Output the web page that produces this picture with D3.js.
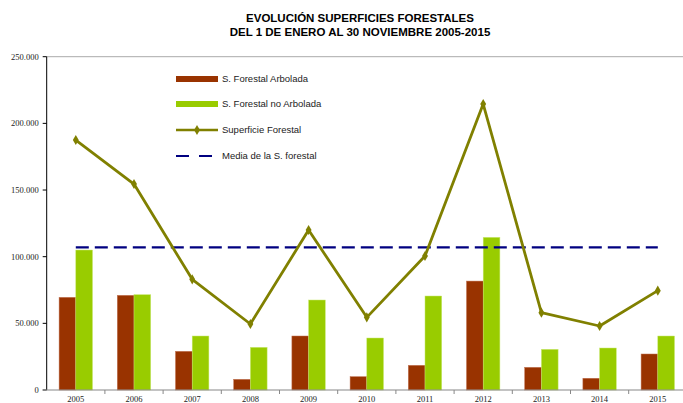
<!DOCTYPE html>
<html><head><meta charset="utf-8">
<script src="https://cdn.jsdelivr.net/npm/d3@7"></script>
<style>body{margin:0;background:#fff}svg{display:block}</style>
</head><body>
<script>
const years = ["2005","2006","2007","2008","2009","2010","2011","2012","2013","2014","2015"];
const arbolada = [69500,71000,29000,8000,40500,10000,18500,81700,17000,8800,27000];
const noArbolada = [105000,71500,40500,32000,67500,39000,70500,114500,30500,31500,40500];
const superficie = [187500,154500,83000,49500,120000,54500,100500,214500,58000,48000,74500];
const media = 107000;
const yTicks = [0,50000,100000,150000,200000,250000];
const legendLabels = ["S. Forestal Arbolada","S. Forestal no Arbolada","Superficie Forestal","Media de la S. forestal"];

(function(){
const W=683,H=403;
const svg=d3.select("body").append("svg").attr("width",W).attr("height",H);
const pL=46.7, pT=56.7, pB=390, pR=pL+58.2*11;
const x=d3.scaleBand().domain(years).range([pL,pR]);
const y=d3.scaleLinear().domain([0,250000]).range([pB,pT]);
const fmt=v=>v===0?"0":d3.format(",.3f")(v/1000).replace(",",".");

svg.append("text").attr("x",360).attr("y",22).attr("text-anchor","middle")
  .attr("font-family","Liberation Sans, Arial").attr("font-weight","bold").attr("font-size",11.5)
  .text("EVOLUCIÓN SUPERFICIES FORESTALES");
svg.append("text").attr("x",360).attr("y",36).attr("text-anchor","middle")
  .attr("font-family","Liberation Sans, Arial").attr("font-weight","bold").attr("font-size",11.5)
  .text("DEL 1 DE ENERO AL 30 NOVIEMBRE 2005-2015");

svg.append("line").attr("x1",pL).attr("x2",W).attr("y1",pT).attr("y2",pT).attr("stroke","#aaa").attr("stroke-width",1);

const bw=16.7;
svg.append("g").selectAll("rect").data(years).join("rect")
  .attr("x",d=>x(d)+x.bandwidth()/2-bw).attr("width",bw)
  .attr("y",(d,i)=>y(arbolada[i])).attr("height",(d,i)=>pB-y(arbolada[i]))
  .attr("fill","#993300").attr("stroke","#c07050").attr("stroke-width",0.5);
svg.append("g").selectAll("rect").data(years).join("rect")
  .attr("x",d=>x(d)+x.bandwidth()/2).attr("width",bw)
  .attr("y",(d,i)=>y(noArbolada[i])).attr("height",(d,i)=>pB-y(noArbolada[i]))
  .attr("fill","#99cc00").attr("stroke","#c8e870").attr("stroke-width",0.5);

const cx=(d)=>x(d)+x.bandwidth()/2;
svg.append("line").attr("x1",cx(years[0])).attr("x2",cx(years[10]))
  .attr("y1",y(media)).attr("y2",y(media)).attr("stroke","#000080").attr("stroke-width",2.2)
  .attr("stroke-dasharray","13,6");

svg.append("path").datum(superficie).attr("fill","none").attr("stroke","#808000").attr("stroke-width",2.8)
  .attr("stroke-linejoin","round")
  .attr("d",d3.line().x((d,i)=>cx(years[i])).y(d=>y(d)));
const diamond=d3.symbol().type(d3.symbolDiamond).size(30);
svg.append("g").selectAll("path").data(superficie).join("path")
  .attr("transform",(d,i)=>`translate(${cx(years[i])},${y(d)})`).attr("d",diamond).attr("fill","#808000");

svg.append("line").attr("x1",pL).attr("x2",pL).attr("y1",pT).attr("y2",pB).attr("stroke","#000").attr("stroke-width",1);
const yg=svg.append("g");
yTicks.forEach(t=>{
  yg.append("line").attr("x1",pL-4).attr("x2",pL).attr("y1",y(t)).attr("y2",y(t)).attr("stroke","#000");
  yg.append("text").attr("x",pL-8).attr("y",y(t)).attr("dy","0.35em").attr("text-anchor","end")
    .attr("font-family","Liberation Serif, Times New Roman").attr("font-size",8.5).attr("fill","#222").text(fmt(t));
});

svg.append("line").attr("x1",pL-4).attr("x2",W).attr("y1",pB).attr("y2",pB).attr("stroke","#888").attr("stroke-width",1.2);
const xg=svg.append("g");
years.forEach((yr,i)=>{
  xg.append("line").attr("x1",x(yr)+x.bandwidth()).attr("x2",x(yr)+x.bandwidth()).attr("y1",pB).attr("y2",pB+4).attr("stroke","#888");
  xg.append("text").attr("x",cx(yr)).attr("y",pB+12).attr("text-anchor","middle")
    .attr("font-family","Liberation Serif, Times New Roman").attr("font-size",8.5).attr("fill","#222").text(yr);
});

const lg=svg.append("g").attr("font-family","Liberation Sans, Arial").attr("font-size",9.5).attr("fill","#222");
const ly=[79,104,130,156];
lg.append("rect").attr("x",176).attr("y",ly[0]-3).attr("width",42).attr("height",6).attr("fill","#993300");
lg.append("rect").attr("x",176).attr("y",ly[1]-3).attr("width",42).attr("height",6).attr("fill","#99cc00");
lg.append("line").attr("x1",176).attr("x2",218).attr("y1",ly[2]).attr("y2",ly[2]).attr("stroke","#808000").attr("stroke-width",2.5);
lg.append("path").attr("transform",`translate(197,${ly[2]})`).attr("d",diamond).attr("fill","#808000");
lg.append("line").attr("x1",176).attr("x2",218).attr("y1",ly[3]).attr("y2",ly[3]).attr("stroke","#000080").attr("stroke-width",2.2).attr("stroke-dasharray","13,10");
legendLabels.forEach((l,i)=>{
  lg.append("text").attr("x",222).attr("y",ly[i]).attr("dy","0.35em").text(l);
});
})();
</script>
</body></html>
